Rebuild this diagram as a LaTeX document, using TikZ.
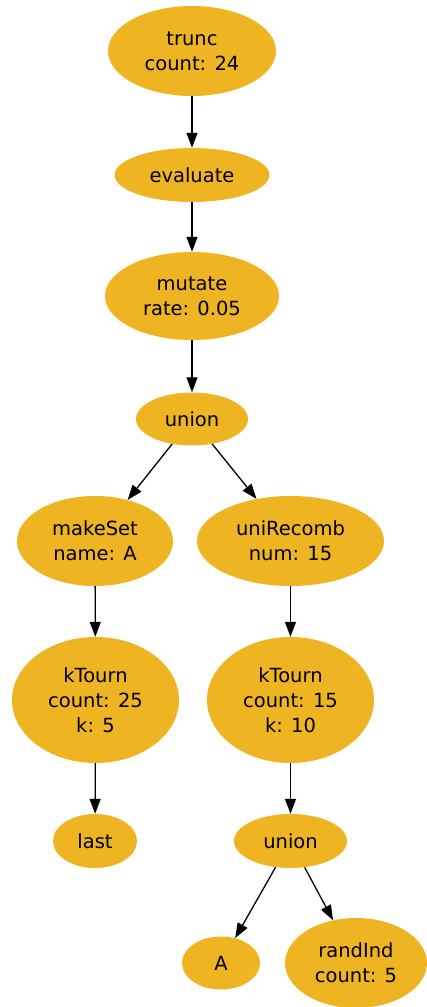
\documentclass[tikz,border=0pt]{standalone}
\usepackage{fontspec}
\setmainfont{DejaVu Sans}
\usetikzlibrary{shapes.geometric,arrows.meta}
\definecolor{gold}{HTML}{EEB422}
\tikzset{
  op/.style={ellipse, fill=gold, draw=none, inner sep=0pt, align=center,
    font=\fontsize{19.5pt}{25pt}\selectfont},
  link/.style={draw=black, line width=1.3pt, -{Triangle[length=15pt,width=11pt]}},
}
\begin{document}
\begin{tikzpicture}[x=1pt,y=-1pt]
\useasboundingbox (0,0) rectangle (426,1007);
\node[op, minimum width=168, minimum height=90] (trunc) at (192,51) {trunc\\count: 24};
\node[op, minimum width=155, minimum height=54] (eval) at (192,175) {evaluate};
\node[op, minimum width=174, minimum height=88] (mut) at (192,296) {mutate\\rate: 0.05};
\node[op, minimum width=112, minimum height=53] (u1) at (192,419) {union};
\node[op, minimum width=156, minimum height=90] (mk) at (95,541) {makeSet\\name: A};
\node[op, minimum width=187, minimum height=90] (uni) at (290.5,541) {uniRecomb\\num: 15};
\node[op, minimum width=167, minimum height=126] (kt1) at (95.5,700) {kTourn\\count: 25\\k: 5};
\node[op, minimum width=167, minimum height=126] (kt2) at (290.5,700) {kTourn\\count: 15\\k: 10};
\node[op, minimum width=84, minimum height=54] (last) at (95,841) {last};
\node[op, minimum width=113, minimum height=54] (u2) at (290.5,841) {union};
\node[op, minimum width=78, minimum height=53] (A) at (221,963) {A};
\node[op, minimum width=142, minimum height=90] (ri) at (356,963) {randInd\\count: 5};
\draw[link] (trunc) -- (eval);
\draw[link] (eval) -- (mut);
\draw[link] (mut) -- (u1);
\draw[link] (u1) -- (mk);
\draw[link] (u1) -- (uni);
\draw[link] (mk) -- (kt1);
\draw[link] (uni) -- (kt2);
\draw[link] (kt1) -- (last);
\draw[link] (kt2) -- (u2);
\draw[link] (u2) -- (A);
\draw[link] (u2) -- (ri);
\end{tikzpicture}
\end{document}
